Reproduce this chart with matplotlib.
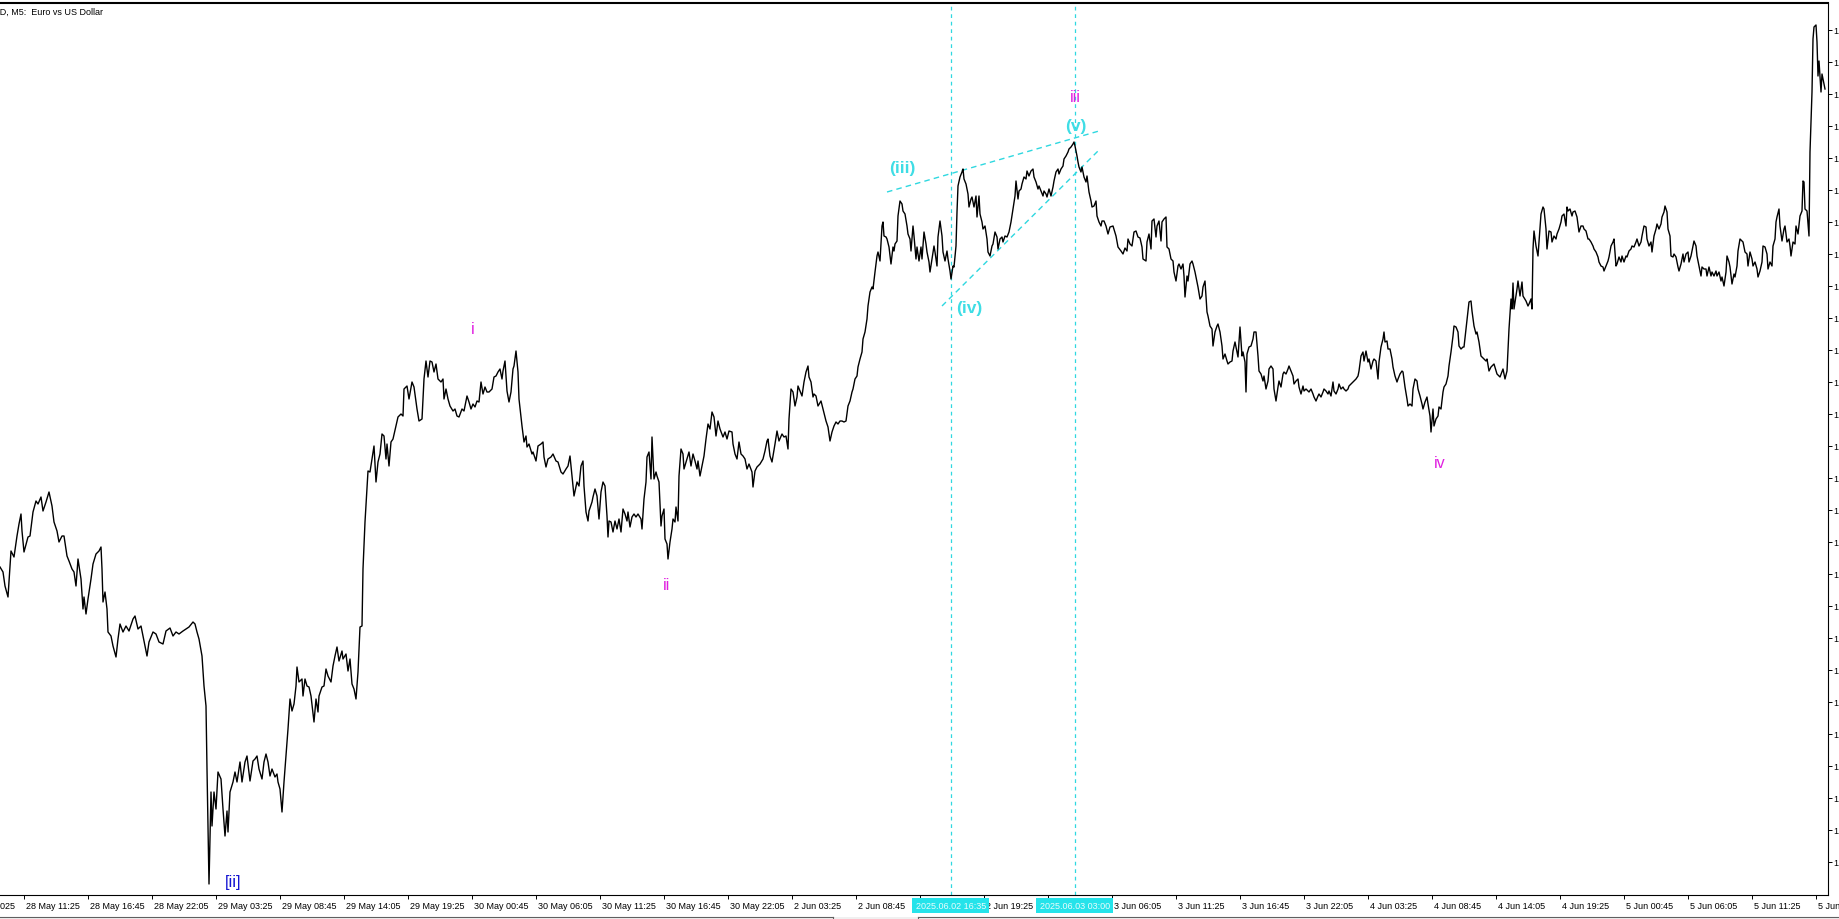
import matplotlib
matplotlib.use("Agg")
import matplotlib.pyplot as plt
import matplotlib.transforms as mtransforms
from matplotlib.patches import Rectangle
from matplotlib.lines import Line2D
import numpy as np

plt.rcParams['font.family'] = ['Liberation Sans', 'DejaVu Sans']

# ---------------- data ----------------
chart_title = "EURUSD, M5:  Euro vs US Dollar"

# M5 bar number counted from the first bar visible at the chart's left edge
bar_index = [
    0, 3, 5, 8, 11, 14, 17, 19, 21, 22,
    24, 28, 30, 33, 36, 38, 41, 43, 46, 49,
    52, 54, 57, 59, 62, 64, 67, 69, 72, 74,
    76, 78, 81, 83, 84, 86, 88, 91, 93, 96,
    99, 101, 102, 103, 105, 107, 108, 111, 113, 116,
    118, 120, 123, 126, 129, 133, 135, 138, 141, 143,
    147, 149, 153, 156, 159, 163, 166, 170, 173, 176,
    179, 183, 186, 189, 193, 195, 197, 199, 202, 204,
    206, 207, 209, 211, 212, 214, 216, 218, 221, 223,
    225, 227, 228, 230, 233, 235, 237, 240, 242, 245,
    247, 250, 253, 255, 257, 259, 262, 264, 266, 268,
    270, 272, 275, 277, 278, 280, 282, 284, 286, 288,
    290, 292, 294, 296, 297, 299, 302, 303, 305, 307,
    309, 311, 314, 316, 318, 319, 322, 324, 326, 328,
    331, 333, 335, 337, 339, 342, 343, 346, 348, 350,
    352, 354, 356, 358, 360, 362, 363, 365, 367, 368,
    370, 374, 376, 378, 380, 382, 384, 386, 387, 389,
    391, 393, 396, 398, 401, 403, 404, 407, 409, 412,
    414, 417, 419, 422, 424, 426, 428, 430, 432, 434,
    436, 438, 441, 443, 444, 446, 448, 450, 453, 455,
    457, 459, 462, 464, 467, 469, 471, 473, 475, 477,
    479, 481, 483, 485, 487, 489, 492, 494, 496, 498,
    500, 502, 503, 505, 507, 509, 511, 513, 514, 516,
    518, 519, 522, 524, 526, 527, 529, 532, 533, 536,
    538, 541, 543, 544, 546, 548, 551, 553, 556, 558,
    561, 563, 566, 568, 570, 572, 574, 577, 579, 581,
    583, 584, 586, 588, 589, 592, 593, 595, 597, 599,
    601, 603, 605, 607, 608, 609, 611, 613, 615, 617,
    619, 621, 623, 625, 627, 628, 630, 632, 634, 636,
    638, 641, 642, 644, 646, 647, 649, 651, 652, 654,
    656, 657, 659, 661, 662, 664, 665, 667, 668, 670,
    672, 673, 675, 676, 678, 679, 681, 683, 684, 687,
    689, 691, 693, 695, 697, 698, 700, 702, 704, 706,
    708, 710, 712, 714, 716, 718, 720, 723, 725, 727,
    729, 732, 733, 735, 737, 739,
    741, 743, 745, 747, 749, 752, 753, 755, 757, 760,
    763, 765, 767, 768, 770, 772, 773, 775, 777, 779,
    782, 784, 786, 788, 789, 791, 793, 795, 797, 798,
    800, 802, 804, 806, 808, 809, 811, 813, 814, 816,
    818, 821, 823, 826, 828, 830, 832, 834, 836, 838,
    840, 842, 844, 846, 848, 850, 852, 853, 855, 857,
    858, 860, 862, 863, 865, 867, 868, 870, 872, 873,
    875, 877, 878, 880, 882, 883, 884, 886, 887, 889,
    891, 893, 894, 895, 897, 898, 900, 902, 903, 905,
    907, 908, 910, 911, 913, 914, 916, 917, 919, 921,
    922, 924, 926, 927, 929, 930, 932, 934, 935, 937,
    938, 940, 942, 943, 945, 947, 948, 950, 951, 953,
    954, 956, 957, 958, 960, 962, 963, 964, 966, 968,
    969, 971, 972, 974, 976, 977, 979, 980, 982, 983,
    985, 987, 988, 990, 992, 993, 995, 997, 998, 1000,
    1002, 1003, 1005, 1007, 1009, 1011, 1013, 1015, 1016, 1018,
    1019, 1021, 1022, 1024, 1026, 1027, 1029, 1031, 1033, 1034,
    1036, 1038, 1039, 1041, 1043, 1044, 1046, 1047, 1049, 1051,
    1053, 1054, 1056, 1058, 1059, 1061, 1063, 1064, 1066, 1068,
    1069, 1071, 1073, 1074, 1075, 1077, 1078, 1079, 1081, 1082,
    1084, 1086, 1087, 1089, 1091, 1092, 1094, 1096, 1097, 1099,
    1101, 1102, 1104, 1106, 1108,
    1110, 1113, 1116, 1118, 1121, 1123, 1125, 1127, 1128, 1130,
    1132, 1134, 1136, 1138, 1140, 1142, 1143, 1146, 1147, 1149,
    1151, 1152, 1154, 1156, 1157, 1159, 1161, 1162, 1164, 1166,
    1167, 1169, 1171, 1173, 1174, 1176, 1178, 1179, 1181, 1183,
    1184, 1185, 1187, 1188, 1190, 1192, 1193, 1195, 1197, 1198,
    1200, 1202, 1203, 1205, 1207, 1208, 1210, 1212, 1213, 1215,
    1217, 1218, 1220, 1222, 1223, 1225, 1227, 1228, 1230, 1232,
    1233, 1235, 1237, 1238, 1240, 1242, 1243, 1245, 1246, 1247,
    1249, 1251, 1253, 1254, 1256, 1258, 1259, 1261, 1263, 1264,
    1266, 1268, 1269, 1271, 1273, 1274, 1276, 1278, 1279, 1281,
    1283, 1284, 1286, 1288, 1289, 1291, 1293, 1294, 1296, 1298,
    1299, 1301, 1303, 1304, 1306, 1308, 1309, 1311, 1313, 1314,
    1316, 1318, 1319, 1321, 1323, 1324, 1326, 1328, 1329, 1331,
    1333, 1334, 1336, 1338, 1339, 1341, 1343, 1344, 1346, 1348,
    1349, 1351, 1353, 1354, 1356, 1358, 1359, 1361, 1363, 1364,
    1366, 1368, 1369, 1371, 1373, 1374, 1376, 1378, 1379, 1381,
    1383, 1384, 1385, 1387, 1388, 1390, 1392, 1393, 1395, 1397,
    1398, 1400, 1402, 1403, 1405, 1407, 1408, 1410, 1412, 1413,
    1415, 1417, 1418, 1420, 1422, 1423, 1425, 1427, 1428, 1430,
    1431, 1433, 1434, 1436, 1438, 1439, 1441, 1443, 1444, 1446,
    1448, 1449, 1451, 1453, 1454, 1456, 1458, 1459, 1461, 1463,
    1464, 1466, 1468, 1469, 1471, 1472, 1474, 1476, 1477, 1479,
    1481, 1482, 1484, 1486, 1487, 1489,
    1491, 1494, 1497, 1500, 1503, 1505, 1507, 1509, 1511, 1512,
    1513, 1514, 1517, 1518, 1520, 1522, 1523, 1526, 1528, 1529,
    1531, 1532, 1533, 1534, 1536, 1538, 1539, 1541, 1543, 1544,
    1546, 1547, 1549, 1551, 1552, 1554, 1556, 1557, 1559, 1561,
    1562, 1564, 1566, 1567, 1568, 1570, 1572, 1573, 1575, 1577,
    1579, 1581, 1583, 1584, 1586, 1588, 1589, 1591, 1593, 1594,
    1596, 1598, 1599, 1601, 1603, 1604, 1606, 1608, 1609, 1611,
    1613, 1614, 1616, 1617, 1619, 1621, 1622, 1624, 1626, 1627,
    1629, 1631, 1632, 1634, 1636, 1637, 1639, 1641, 1642, 1644,
    1646, 1647, 1649, 1651, 1652, 1654, 1656, 1657, 1659, 1661,
    1662, 1664, 1665, 1667, 1668, 1670, 1671, 1673, 1674, 1676,
    1678, 1679, 1681, 1683, 1684, 1686, 1688, 1689, 1691, 1693,
    1694, 1696, 1697, 1699, 1701, 1702, 1704, 1706, 1707, 1709,
    1711, 1712, 1714, 1716, 1717, 1719, 1721, 1722, 1724, 1726,
    1727, 1729, 1730, 1732, 1734, 1735, 1737, 1738, 1740, 1742,
    1743, 1745, 1747, 1748, 1750, 1752, 1753, 1755, 1757, 1758,
    1760, 1762, 1763, 1765, 1767, 1768, 1770, 1772, 1773, 1775,
    1776, 1777, 1779, 1780, 1782, 1784, 1785, 1787, 1789, 1790,
    1791, 1793, 1795, 1796, 1798, 1800, 1802, 1803, 1804, 1805,
    1807, 1809, 1810, 1812, 1813, 1814, 1816, 1817, 1818, 1819,
    1821, 1822, 1823, 1825,
]

close_price = [
    1.13324, 1.13309, 1.13267, 1.13234, 1.13372, 1.13354, 1.13417, 1.13453, 1.13483, 1.13432,
    1.13369, 1.13414, 1.13417, 1.13489, 1.13522, 1.13513, 1.13534, 1.13492, 1.13519, 1.13549,
    1.13507, 1.13459, 1.13432, 1.13399, 1.13417, 1.13417, 1.13357, 1.13342, 1.13318, 1.13309,
    1.13267, 1.13348, 1.13288, 1.13198, 1.13234, 1.13183, 1.13228, 1.13288, 1.13333, 1.13363,
    1.13372, 1.13384, 1.13318, 1.13219, 1.13249, 1.13198, 1.13129, 1.13117, 1.13087, 1.13054,
    1.13108, 1.13153, 1.13129, 1.13147, 1.13132, 1.13168, 1.13177, 1.13138, 1.13147, 1.13117,
    1.13057, 1.13099, 1.13129, 1.13123, 1.13099, 1.13093, 1.13132, 1.13141, 1.13117, 1.13129,
    1.13123, 1.13132, 1.13138, 1.13144, 1.13159, 1.13153, 1.13129, 1.13108, 1.13057, 1.12967,
    1.12907, 1.12718, 1.12373, 1.12649, 1.12547, 1.12649, 1.12598, 1.12709, 1.12688, 1.12598,
    1.12517, 1.12592, 1.12529, 1.12649, 1.12679, 1.12709, 1.12679, 1.12739, 1.12679, 1.12739,
    1.12757, 1.12682, 1.12742, 1.12748, 1.12757, 1.12718, 1.12688, 1.12739, 1.12763, 1.12739,
    1.12697, 1.12718, 1.12694, 1.12703, 1.12679, 1.12658, 1.12589, 1.12679, 1.12757, 1.12838,
    1.12928, 1.12892, 1.12913, 1.12967, 1.13024, 1.12979, 1.12988, 1.12937, 1.12988, 1.12967,
    1.12964, 1.12937, 1.12859, 1.12928, 1.12889, 1.12937, 1.12964, 1.12967, 1.13018, 1.12997,
    1.12979, 1.13027, 1.13057, 1.13084, 1.13042, 1.13072, 1.13048, 1.13063, 1.13012, 1.13048,
    1.12973, 1.12958, 1.12928, 1.13009, 1.13144, 1.13147, 1.13318, 1.13459, 1.13558, 1.13612,
    1.13609, 1.13687, 1.13579, 1.13639, 1.13663, 1.13723, 1.13717, 1.13648, 1.13693, 1.13627,
    1.13699, 1.13708, 1.13747, 1.13774, 1.13783, 1.13777, 1.13858, 1.13867, 1.13828, 1.13879,
    1.13864, 1.13798, 1.13762, 1.13768, 1.13888, 1.13942, 1.13894, 1.13942, 1.13939, 1.13909,
    1.13933, 1.13888, 1.13879, 1.13888, 1.13828, 1.13858, 1.13828, 1.13807, 1.13792, 1.13798,
    1.13777, 1.13774, 1.13798, 1.13792, 1.13837, 1.13819, 1.13798, 1.13813, 1.13804, 1.13822,
    1.13819, 1.13879, 1.13843, 1.13864, 1.13849, 1.13849, 1.13858, 1.13894, 1.13897, 1.13909,
    1.13918, 1.13888, 1.13912, 1.13942, 1.13852, 1.13819, 1.13849, 1.13918, 1.13927, 1.13972,
    1.13909, 1.13828, 1.13747, 1.13699, 1.13717, 1.13684, 1.13693, 1.13663, 1.13669, 1.13642,
    1.13687, 1.13693, 1.13699, 1.13654, 1.13624, 1.13648, 1.13654, 1.13663, 1.13642, 1.13639,
    1.13609, 1.13603, 1.13618, 1.13627, 1.13657, 1.13597, 1.13537, 1.13579, 1.13567, 1.13627,
    1.13642, 1.13567, 1.13489, 1.13462, 1.13492, 1.13519, 1.13534, 1.13558, 1.13537, 1.13468,
    1.13549, 1.13579, 1.13567, 1.13477, 1.13414, 1.13462, 1.13459, 1.13429, 1.13462, 1.13438,
    1.13468, 1.13429, 1.13498, 1.13483, 1.13462, 1.13489, 1.13444, 1.13474, 1.13483, 1.13474,
    1.13483, 1.13468, 1.13438, 1.13528, 1.13579, 1.13654, 1.13669, 1.13588, 1.13714, 1.13588,
    1.13609, 1.13597, 1.13579, 1.13447, 1.13477, 1.13498, 1.13408, 1.13393, 1.13348, 1.13399,
    1.13438, 1.13468, 1.13459, 1.13504, 1.13462, 1.13597, 1.13678, 1.13663, 1.13618, 1.13648,
    1.13669, 1.13627, 1.13663, 1.13642, 1.13618, 1.13642, 1.13597, 1.13627, 1.13657, 1.13708,
    1.13753, 1.13738, 1.13789, 1.13774, 1.13717, 1.13762, 1.13738, 1.13714, 1.13729, 1.13708,
    1.13732, 1.13729, 1.13693, 1.13663, 1.13648, 1.13699,
    1.13663, 1.13657, 1.13648, 1.13618, 1.13633, 1.13609, 1.13564, 1.13612, 1.13624, 1.13633,
    1.13648, 1.13672, 1.13702, 1.13708, 1.13657, 1.13639, 1.13657, 1.13693, 1.13732, 1.13702,
    1.13723, 1.13714, 1.13717, 1.13678, 1.13768, 1.13858, 1.13849, 1.13807, 1.13834, 1.13867,
    1.13852, 1.13837, 1.13879, 1.13909, 1.13927, 1.13894, 1.13879, 1.13834, 1.13843, 1.13837,
    1.13807, 1.13822, 1.13798, 1.13762, 1.13744, 1.13702, 1.13729, 1.13747, 1.13759, 1.13753,
    1.13762, 1.13762, 1.13759, 1.13762, 1.13807, 1.13822, 1.13849, 1.13858, 1.13888, 1.13897,
    1.13924, 1.13948, 1.13969, 1.14008, 1.14029, 1.14068, 1.14107, 1.14149, 1.14164, 1.14158,
    1.14209, 1.14257, 1.14269, 1.14242, 1.14347, 1.14359, 1.14317, 1.14314, 1.14308, 1.14284,
    1.14233, 1.14284, 1.14272, 1.14293, 1.14302, 1.14377, 1.14422, 1.14413, 1.14392, 1.14383,
    1.14347, 1.14323, 1.14308, 1.14272, 1.14347, 1.14317, 1.14248, 1.14284, 1.14242, 1.14284,
    1.14248, 1.14329, 1.14293, 1.14269, 1.14239, 1.14209, 1.14248, 1.14287, 1.14269, 1.14227,
    1.14314, 1.14362, 1.14317, 1.14269, 1.14242, 1.14272, 1.14248, 1.14212, 1.14188, 1.14227,
    1.14224, 1.14287, 1.14389, 1.14467, 1.14494, 1.14509, 1.14518, 1.14488, 1.14473, 1.14443,
    1.14404, 1.14428, 1.14434, 1.14404, 1.14437, 1.14374, 1.14437, 1.14383, 1.14359, 1.14338,
    1.14347, 1.14308, 1.14269, 1.14257, 1.14287, 1.14293, 1.14329, 1.14314, 1.14278, 1.14308,
    1.14314, 1.14299, 1.14317, 1.14314, 1.14329, 1.14359, 1.14398, 1.14437, 1.14482, 1.14428,
    1.14452, 1.14458, 1.14473, 1.14494, 1.14488, 1.14512, 1.14497, 1.14512, 1.14518, 1.14494,
    1.14479, 1.14458, 1.14467, 1.14452, 1.14437, 1.14452, 1.14443, 1.14434, 1.14458, 1.14437,
    1.14464, 1.14482, 1.14509, 1.14518, 1.14503, 1.14518, 1.14527, 1.14548, 1.14557, 1.14569,
    1.14578, 1.14584, 1.14593, 1.14599, 1.14587, 1.14557, 1.14539, 1.14524, 1.14509, 1.14524,
    1.14494, 1.14479, 1.14497, 1.14449, 1.14422, 1.14404, 1.14407, 1.14422, 1.14377, 1.14359,
    1.14347, 1.14362, 1.14362, 1.14347, 1.14323,
    1.14344, 1.14347, 1.14317, 1.14284, 1.14272, 1.14263, 1.14281, 1.14272, 1.14308, 1.14293,
    1.14287, 1.14329, 1.14332, 1.14314, 1.14311, 1.14284, 1.14248, 1.14242, 1.14299, 1.14323,
    1.14278, 1.14362, 1.14368, 1.14314, 1.14347, 1.14362, 1.14302, 1.14359, 1.14368, 1.14374,
    1.14284, 1.14278, 1.14248, 1.14242, 1.14209, 1.14182, 1.14227, 1.14233, 1.14218, 1.14233,
    1.14197, 1.14134, 1.14197, 1.14182, 1.14233, 1.14242, 1.14233, 1.14209, 1.14179, 1.14164,
    1.14128, 1.14137, 1.14164, 1.14182, 1.14089, 1.14077, 1.14047, 1.14038, 1.13987, 1.14029,
    1.14047, 1.14053, 1.14029, 1.13987, 1.13948, 1.13963, 1.13942, 1.13933, 1.13939, 1.13942,
    1.13972, 1.13999, 1.13969, 1.13954, 1.14044, 1.13957, 1.13969, 1.13939, 1.13849, 1.13963,
    1.13984, 1.13987, 1.14008, 1.14029, 1.14029, 1.13957, 1.13912, 1.13903, 1.13882, 1.13897,
    1.13858, 1.13882, 1.13918, 1.13927, 1.13918, 1.13858, 1.13822, 1.13864, 1.13882, 1.13864,
    1.13903, 1.13909, 1.13903, 1.13918, 1.13927, 1.13912, 1.13897, 1.13873, 1.13882, 1.13888,
    1.13864, 1.13843, 1.13867, 1.13852, 1.13858, 1.13852, 1.13849, 1.13858, 1.13843, 1.13834,
    1.13822, 1.13837, 1.13843, 1.13834, 1.13849, 1.13858, 1.13852, 1.13843, 1.13852, 1.13837,
    1.13879, 1.13852, 1.13843, 1.13858, 1.13873, 1.13858, 1.13864, 1.13858, 1.13852, 1.13858,
    1.13867, 1.13873, 1.13879, 1.13882, 1.13888, 1.13897, 1.13912, 1.13957, 1.13969, 1.13942,
    1.13972, 1.13939, 1.13948, 1.13918, 1.13942, 1.13948, 1.13942, 1.13888, 1.13939, 1.13984,
    1.14008, 1.14029, 1.13999, 1.14002, 1.13978, 1.13978, 1.13948, 1.13924, 1.13897, 1.13879,
    1.13888, 1.13903, 1.13912, 1.13909, 1.13864, 1.13828, 1.13807, 1.13813, 1.13807, 1.13858,
    1.13888, 1.13882, 1.13858, 1.13837, 1.13813, 1.13798, 1.13819, 1.13834, 1.13813, 1.13777,
    1.13729, 1.13798, 1.13747, 1.13768, 1.13777, 1.13804, 1.13798, 1.13849, 1.13864, 1.13873,
    1.13897, 1.13927, 1.13969, 1.14017, 1.14047, 1.14044, 1.14029, 1.13987, 1.13978, 1.13984,
    1.13984, 1.14038, 1.14089, 1.14119, 1.14122, 1.14092, 1.14047, 1.14023, 1.14029, 1.13999,
    1.13957, 1.13954, 1.13948, 1.13942, 1.13948, 1.13912,
    1.13924, 1.13933, 1.13903, 1.13894, 1.13918, 1.13888, 1.13912, 1.14038, 1.14128, 1.14098,
    1.14176, 1.14098, 1.14158, 1.14182, 1.14137, 1.14179, 1.14137, 1.14122, 1.14107, 1.14113,
    1.14128, 1.14098, 1.14278, 1.14332, 1.14287, 1.14257, 1.14299, 1.14383, 1.14404, 1.14398,
    1.14338, 1.14278, 1.14332, 1.14329, 1.14299, 1.14317, 1.14308, 1.14323, 1.14338, 1.14359,
    1.14377, 1.14383, 1.14347, 1.14404, 1.14392, 1.14398, 1.14377, 1.14389, 1.14392, 1.14374,
    1.14329, 1.14347, 1.14347, 1.14338, 1.14332, 1.14308, 1.14308, 1.14299, 1.14287, 1.14278,
    1.14269, 1.14254, 1.14239, 1.14227, 1.14224, 1.14212, 1.14227, 1.14242, 1.14254, 1.14287,
    1.14299, 1.14308, 1.14227, 1.14233, 1.14254, 1.14239, 1.14257, 1.14239, 1.14257, 1.14254,
    1.14272, 1.14278, 1.14287, 1.14284, 1.14299, 1.14308, 1.14287, 1.14299, 1.14317, 1.14347,
    1.14344, 1.14308, 1.14287, 1.14299, 1.14269, 1.14317, 1.14338, 1.14353, 1.14338, 1.14353,
    1.14374, 1.14389, 1.14407, 1.14389, 1.14338, 1.14317, 1.14257, 1.14254, 1.14263, 1.14254,
    1.14224, 1.14212, 1.14233, 1.14263, 1.14239, 1.14263, 1.14269, 1.14239, 1.14257, 1.14287,
    1.14302, 1.14287, 1.14257, 1.14227, 1.14197, 1.14224, 1.14218, 1.14218, 1.14197, 1.14224,
    1.14197, 1.14209, 1.14197, 1.14212, 1.14197, 1.14209, 1.14182, 1.14194, 1.14167, 1.14209,
    1.14257, 1.14239, 1.14224, 1.14173, 1.14203, 1.14194, 1.14227, 1.14272, 1.14308, 1.14302,
    1.14299, 1.14269, 1.14263, 1.14227, 1.14269, 1.14248, 1.14227, 1.14239, 1.14218, 1.14194,
    1.14212, 1.14239, 1.14287, 1.14284, 1.14263, 1.14218, 1.14239, 1.14227, 1.14287, 1.14308,
    1.14359, 1.14374, 1.14398, 1.14347, 1.14302, 1.14338, 1.14347, 1.14299, 1.14308, 1.14287,
    1.14257, 1.14299, 1.14293, 1.14347, 1.14323, 1.14377, 1.14392, 1.14482, 1.14479, 1.14398,
    1.14392, 1.14317, 1.14569, 1.14749, 1.14908, 1.14944, 1.14950, 1.14899, 1.14797, 1.14842,
    1.14749, 1.14803, 1.14788, 1.14758,
]

# time-scale labels (one every 64 bars); two are hidden under the
# highlighted time boxes of the vertical lines
time_labels = [
    "28 May 11:25", "28 May 16:45", "28 May 22:05", "29 May 03:25", "29 May 08:45",
    "29 May 14:05", "29 May 19:25", "30 May 00:45", "30 May 06:05", "30 May 11:25",
    "30 May 16:45", "30 May 22:05", "2 Jun 03:25", "2 Jun 08:45", "",
    "2 Jun 19:25", "", "3 Jun 06:05", "3 Jun 11:25", "3 Jun 16:45",
    "3 Jun 22:05", "4 Jun 03:25", "4 Jun 08:45", "4 Jun 14:05", "4 Jun 19:25",
    "5 Jun 00:45", "5 Jun 06:05", "5 Jun 11:25", "5 Jun 16:45",
]
first_time_label = "28 May 2025"
first_label_bar = 24.5
label_step_bars = 64

# price scale
price_tick_top = 1.14936
price_tick_step = 0.00096
price_tick_count = 27

# vertical lines (bar, label)
vline_bars = [951, 1075]
vline_labels = ["2025.06.02 16:35", "2025.06.03 03:00"]

# trend lines of the ending diagonal
upper_line_bars = [887, 1099]
upper_line_prices = [1.14449, 1.14632]
lower_line_bars = [942, 1098]
lower_line_prices = [1.14107, 1.14572]

# wave labels
minor_wave_text = ["i", "ii", "iii", "iv"]
minor_wave_bars = [473, 667, 1075, 1440]
minor_wave_prices = [1.14041, 1.13270, 1.14737, 1.13636]

minute_wave_text = ["(iii)", "(iv)", "(v)"]
minute_wave_bars = [902, 969, 1076]
minute_wave_prices = [1.14521, 1.14101, 1.14647]

major_wave_text = ["[ii]"]
major_wave_bars = [233]
major_wave_prices = [1.12379]

# ---------------- figure ----------------
W, H = 1840, 920
fig = plt.figure(figsize=(W / 100, H / 100), dpi=100)
fig.patch.set_facecolor('white')
ax_left, ax_right, ax_top, ax_bottom = 0, 1828, 4, 896
ax = fig.add_axes([ax_left / W, (H - ax_bottom) / H,
                   (ax_right - ax_left) / W, (ax_bottom - ax_top) / H])
ax.set_xlim(0, 1828)
ax.set_ylim(1.12340, 1.15016)

CYAN = '#2fd8e0'
LABEL_CYAN = '#3fdde5'
MAGENTA = '#e020e0'
BLUE = '#1414d2'

# price line
ax.plot(bar_index, close_price, color='black', lw=1.0, zorder=4)

# vertical lines
for b in vline_bars:
    ax.axvline(b, color=CYAN, lw=0.9, ls=(0, (3, 3)), zorder=2)

# trend lines
ax.plot(upper_line_bars, upper_line_prices, color=CYAN, lw=1.0, ls=(0, (4, 3)), zorder=3)
ax.plot(lower_line_bars, lower_line_prices, color=CYAN, lw=1.0, ls=(0, (4, 3)), zorder=3)

# wave labels
for t, b, p in zip(minor_wave_text, minor_wave_bars, minor_wave_prices):
    ax.text(b, p, t, color=MAGENTA, fontsize=11.5, ha='center', va='center', zorder=5)
for t, b, p in zip(minute_wave_text, minute_wave_bars, minute_wave_prices):
    ax.text(b, p, t, color=LABEL_CYAN, fontsize=12.5, fontweight='bold',
            ha='center', va='center', zorder=5)
for t, b, p in zip(major_wave_text, major_wave_bars, major_wave_prices):
    ax.text(b, p, t, color=BLUE, fontsize=12, ha='center', va='center', zorder=5)

# spines
ax.spines['left'].set_visible(False)
ax.spines['top'].set_linewidth(1.5)
ax.spines['right'].set_linewidth(0.8)
ax.spines['bottom'].set_linewidth(0.8)

# x axis
xticks = first_label_bar + label_step_bars * np.arange(len(time_labels))
ax.set_xticks(xticks)
ax.set_xticklabels(time_labels)
ax.tick_params(axis='x', direction='out', length=3, width=0.7, pad=1.5,
               labelsize=6.5, colors='black')
offset = mtransforms.ScaledTranslation(2 / 100, 0, fig.dpi_scale_trans)
for lab in ax.get_xticklabels():
    lab.set_horizontalalignment('left')
    lab.set_transform(lab.get_transform() + offset)

# the first label, partly cut at the left edge
trans_xa = mtransforms.blended_transform_factory(ax.transData, ax.transAxes)
ax.text(first_label_bar - label_step_bars, -6.2 / 892, first_time_label,
        transform=trans_xa + offset, ha='left', va='top', fontsize=6.5,
        clip_on=False)

# y axis on the right
ax.yaxis.tick_right()
yticks = price_tick_top - price_tick_step * np.arange(price_tick_count)
ax.set_yticks(yticks)
ax.set_yticklabels([f"{v:.5f}" for v in yticks])
ax.tick_params(axis='y', direction='out', length=3, width=0.7, pad=1,
               labelsize=6.5, colors='black')

# highlighted time labels of the vertical lines
box_w = 77
for b, txt in zip(vline_bars, vline_labels):
    rect = Rectangle((b - box_w / 2, -18 / 892), box_w, 15 / 892, transform=trans_xa,
                     facecolor='#25e3ea', edgecolor='none', clip_on=False, zorder=6)
    ax.add_patch(rect)
    ax.text(b, -10.5 / 892, txt, transform=trans_xa, ha='center', va='center',
            fontsize=6.5, color='#eafcfc', clip_on=False, zorder=7)

# window bottom edge with the chart tabs
fig.add_artist(Rectangle((0, 0), 1, 2 / H, transform=fig.transFigure,
                         facecolor='#f0f0f0', edgecolor='none'))
for xs in ([0, 833], [918, W]):
    fig.add_artist(Line2D([xs[0] / W, xs[1] / W], [2 / H, 2 / H],
                          transform=fig.transFigure, color='#606060', lw=0.8))
for xv in (833, 918):
    fig.add_artist(Line2D([xv / W, xv / W], [0, 2 / H],
                          transform=fig.transFigure, color='#606060', lw=0.8))

# title (partly hidden at the left edge)
fig.text(103 / W, 1 - 12 / H, chart_title, ha='right', va='center', fontsize=6.5,
         color='black')

fig.savefig('out.png', dpi=100, facecolor='white')
